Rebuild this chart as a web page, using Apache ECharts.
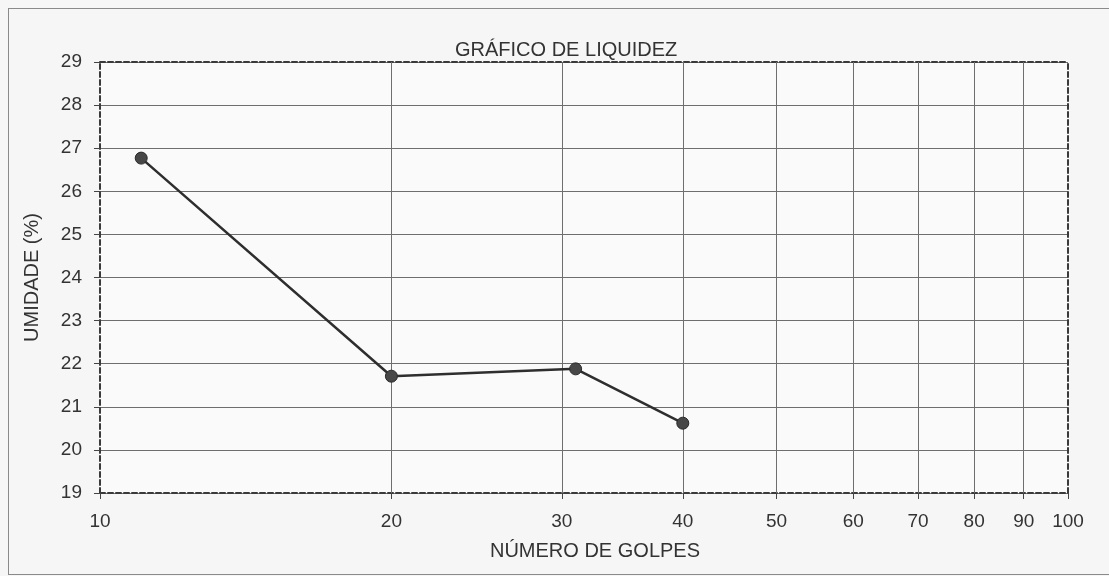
<!DOCTYPE html>
<html>
<head>
<meta charset="utf-8">
<script src="https://cdn.jsdelivr.net/npm/echarts@6/dist/echarts.min.js"></script>
<style>
  html, body { margin: 0; padding: 0; background: #f6f6f6; }
  .frame { position: absolute; left: 8px; top: 8px; width: 1120px; height: 565px;
    border: 1px solid #8a8a8a; border-right: none; }
  #chart { position: absolute; left: 0; top: 0; width: 1109px; height: 576px; }
</style>
</head>
<body>
<div class="frame"></div>
<div id="chart"></div>
<script>
// número de golpes x umidade (%)
const golpes = [11.03, 20, 31, 40]
const umidade = [26.77, 21.71, 21.88, 20.62]
const xTicks = [10, 20, 30, 40, 50, 60, 70, 80, 90, 100]
const xGrid = [20, 30, 40, 50, 60, 70, 80, 90]

const chart = echarts.init(document.getElementById('chart'))
const textColor = '#333'
const font = 'Liberation Sans, Arial, sans-serif'
const borderStyle = { color: '#3a3a3a', width: 2, type: [5, 3] }
const gridColor = '#6e6e6e'

chart.setOption({
  textStyle: { fontFamily: font },
  title: {
    text: 'GRÁFICO DE LIQUIDEZ',
    left: 450,
    top: 35,
    textStyle: { fontSize: 20, fontWeight: 'normal', color: textColor },
  },
  grid: {
    left: 100,
    right: 41,
    top: 62,
    bottom: 83,
    show: true,
    backgroundColor: '#fafafa',
    borderWidth: 0,
  },
  xAxis: [{
    type: 'log',
    logBase: 10,
    min: 10,
    max: 100,
    name: 'NÚMERO DE GOLPES',
    nameLocation: 'middle',
    nameGap: 48,
    nameTextStyle: { fontSize: 20, color: textColor, padding: [0, 0, 0, 22] },
    axisLine: { lineStyle: borderStyle },
    axisTick: { show: true, length: 6, customValues: xTicks, lineStyle: { color: '#444' } },
    axisLabel: { customValues: xTicks, fontSize: 19, color: textColor, margin: 19 },
    splitLine: { show: false },
  }, {
    type: 'log',
    logBase: 10,
    min: 10,
    max: 100,
    position: 'top',
    axisLine: { lineStyle: borderStyle },
    axisTick: { show: true, inside: true, length: 431, customValues: xGrid,
      lineStyle: { color: gridColor, width: 1 } },
    axisLabel: { show: false },
    splitLine: { show: false },
  }],
  yAxis: [{
    type: 'value',
    min: 19,
    max: 29,
    interval: 1,
    name: 'UMIDADE (%)',
    nameLocation: 'middle',
    nameGap: 58,
    nameTextStyle: { fontSize: 20, color: textColor },
    axisLine: { show: true, lineStyle: borderStyle },
    axisTick: { show: true, length: 6, lineStyle: { color: '#444' } },
    axisLabel: { fontSize: 19, color: textColor, margin: 18 },
    splitLine: { show: true, lineStyle: { color: gridColor, width: 1 } },
  }, {
    type: 'value',
    min: 19,
    max: 29,
    interval: 1,
    position: 'right',
    axisLine: { show: true, lineStyle: borderStyle },
    axisTick: { show: false },
    axisLabel: { show: false },
    splitLine: { show: false },
  }],
  series: [{
    type: 'line',
    data: golpes.map((g, i) => [g, umidade[i]]),
    symbol: 'circle',
    symbolSize: 12,
    lineStyle: { color: '#2e2e2e', width: 2.5 },
    itemStyle: { color: '#474747', borderColor: '#2a2a2a', borderWidth: 1 },
    z: 5,
  }],
})
</script>
</body>
</html>
